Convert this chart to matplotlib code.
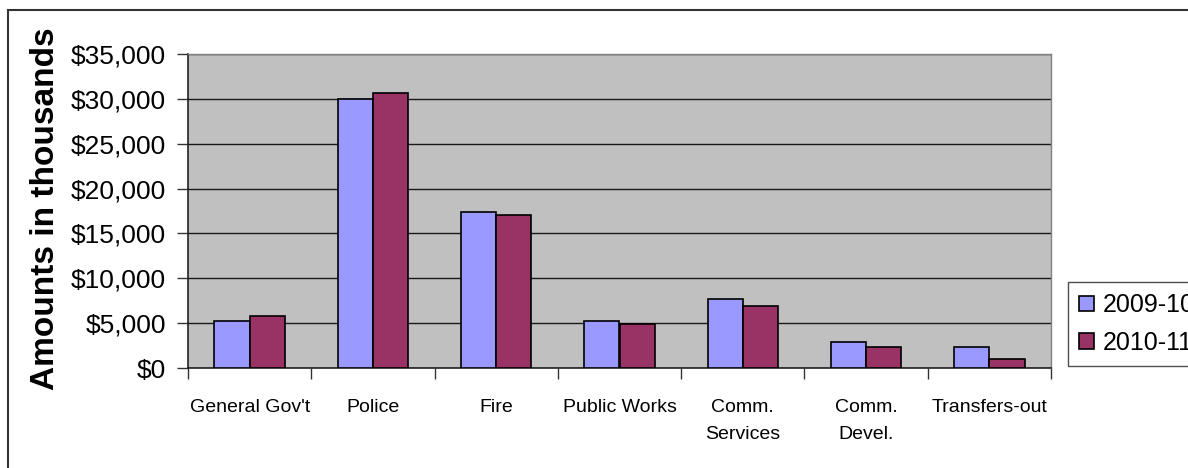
import matplotlib
matplotlib.use("Agg")
import matplotlib.pyplot as plt
import matplotlib.ticker as mticker
from matplotlib.patches import Rectangle
import numpy as np

# spending by department, in thousands of dollars
categories = ["General Gov't", "Police", "Fire", "Public Works",
              "Comm.\nServices", "Comm.\nDevel.", "Transfers-out"]
fy_2009_10 = [5250, 30000, 17400, 5250, 7650, 2950, 2350]
fy_2010_11 = [5850, 30700, 17050, 4950, 6900, 2350, 1050]
series_names = ["2009-10", "2010-11"]
colors = ["#9999FF", "#993366"]

plt.rcParams["font.family"] = ["Liberation Sans", "DejaVu Sans"]

W, H = 1188, 468
fig = plt.figure(figsize=(W / 100, H / 100), dpi=100)
ax = fig.add_axes([188 / W, 1 - 368 / H, (1051 - 188) / W, (368 - 54) / H])
ax.set_facecolor("#C0C0C0")

x = np.arange(len(categories))
bw = 1 / 3.5
for i, (vals, name, c) in enumerate(zip([fy_2009_10, fy_2010_11], series_names, colors)):
    ax.bar(x + (i - 0.5) * bw, vals, width=bw, color=c, edgecolor="black",
           linewidth=1.2, label=name, zorder=3)

ax.set_xlim(-0.5, len(categories) - 0.5)
ax.set_ylim(0, 35000)
ax.yaxis.set_major_locator(mticker.MultipleLocator(5000))
ax.yaxis.set_major_formatter(mticker.StrMethodFormatter("${x:,.0f}"))
ax.grid(axis="y", color="#1a1a1a", linewidth=1, zorder=1)
ax.set_axisbelow(True)

ax.set_xticks(x)
ax.set_xticklabels(categories, fontsize=14, linespacing=1.8)
ax.set_xticks(np.arange(-0.5, len(categories)), minor=True)
ax.tick_params(axis="x", which="major", length=0, pad=22)
ax.tick_params(axis="x", which="minor", length=8, width=1, color="#333333", direction="out")
ax.tick_params(axis="y", length=8, width=1, color="#333333", direction="out",
               labelsize=19, pad=8)

for side in ["left", "bottom"]:
    ax.spines[side].set_color("#222222")
    ax.spines[side].set_linewidth(1.2)
for side in ["top", "right"]:
    ax.spines[side].set_color("#808080")
    ax.spines[side].set_linewidth(1)

fig.text(46 / W, 1 - 209 / H, "Amounts in thousands", rotation=90,
         ha="center", va="center", fontsize=24, fontweight="bold")

leg = fig.legend(loc="upper left", bbox_to_anchor=(1068 / W, 1 - 282 / H),
                 bbox_transform=fig.transFigure, fontsize=18, frameon=True,
                 fancybox=False, borderpad=0.45, labelspacing=0.55,
                 handlelength=0.6, handleheight=0.6, handletextpad=0.35,
                 borderaxespad=0)
leg.get_frame().set_edgecolor("#222222")
leg.get_frame().set_linewidth(1)

# outer chart frame
fig.patches.append(Rectangle((8 / W, -0.1), 1.2, 1.1 - 10 / H, transform=fig.transFigure,
                             fill=False, edgecolor="#333333", linewidth=1.5))

fig.savefig("out.png", dpi=100)
